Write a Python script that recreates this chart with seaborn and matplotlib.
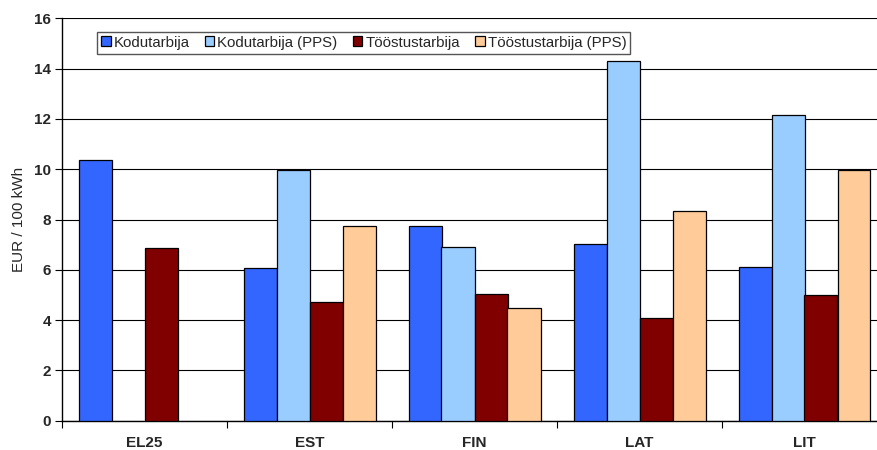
import numpy as np
import pandas as pd
import matplotlib
matplotlib.use("Agg")
import matplotlib.pyplot as plt
import seaborn as sns

countries = ["EL25", "EST", "FIN", "LAT", "LIT"]
series = ["Kodutarbija", "Kodutarbija (PPS)", "Tööstustarbija", "Tööstustarbija (PPS)"]
kodutarbija = [10.37, 6.06, 7.75, 7.03, 6.10]
kodutarbija_pps = [np.nan, 9.97, 6.92, 14.31, 12.17]
tooste = [6.87, 4.71, 5.04, 4.10, 4.99]
tooste_pps = [np.nan, 7.75, 4.49, 8.34, 9.97]
colors = ["#3366FF", "#99CCFF", "#800000", "#FFCC99"]
yticks = [0, 2, 4, 6, 8, 10, 12, 14, 16]

rows = []
for name, vals in zip(series, [kodutarbija, kodutarbija_pps, tooste, tooste_pps]):
    for c, v in zip(countries, vals):
        rows.append({"riik": c, "seeria": name, "väärtus": v})
df = pd.DataFrame(rows)

sns.set_style("white")
plt.rcParams["font.family"] = ["Liberation Sans", "DejaVu Sans"]

fig = plt.figure(figsize=(8.77, 4.5), dpi=100)
ax = fig.add_axes([62 / 877, 29.3 / 450, 825 / 877, 402.4 / 450])

sns.barplot(data=df, x="riik", y="väärtus", hue="seeria", order=countries,
            hue_order=series, palette=colors, width=0.8, saturation=1,
            edgecolor="black", linewidth=0.9, errorbar=None, ax=ax, zorder=3)

ax.set_xlim(-0.5, 4.5)
ax.set_ylim(0, 16)
ax.set_yticks(yticks)
ax.set_yticklabels([str(t) for t in yticks], fontweight="bold", fontsize=11)
ax.yaxis.grid(True, color="black", linewidth=0.8, zorder=0)
ax.set_axisbelow(True)

ax.set_xticks(range(len(countries)))
ax.set_xticklabels(countries, fontweight="bold", fontsize=11)
ax.tick_params(axis="x", which="major", length=0, pad=11)
ax.set_xticks(np.arange(-0.5, 4.6, 1.0), minor=True)
ax.tick_params(axis="x", which="minor", length=5, width=0.8, color="black", direction="out")
ax.tick_params(axis="y", length=5, width=0.8, color="black", direction="out", pad=3)
ax.yaxis.set_tick_params(left=True)
ax.xaxis.set_tick_params(which="minor", bottom=True)

for side in ["top", "right"]:
    ax.spines[side].set_visible(False)
for side in ["left", "bottom"]:
    ax.spines[side].set_color("black")
    ax.spines[side].set_linewidth(1.0)

ax.set_xlabel("")
ax.set_ylabel("EUR / 100 kWh", fontsize=11, labelpad=6)

handles, labels = ax.get_legend_handles_labels()
ax.legend(handles, labels, loc="upper left", bbox_to_anchor=(97 / 877, 1 - 32 / 450),
          bbox_transform=fig.transFigure, ncol=4, fontsize=10.8, frameon=True,
          fancybox=False, edgecolor="#555555", framealpha=1, borderpad=0.25,
          handlelength=0.65, handleheight=0.65, handletextpad=0.2,
          columnspacing=1.0, borderaxespad=0)

fig.savefig("out.png", dpi=100)
